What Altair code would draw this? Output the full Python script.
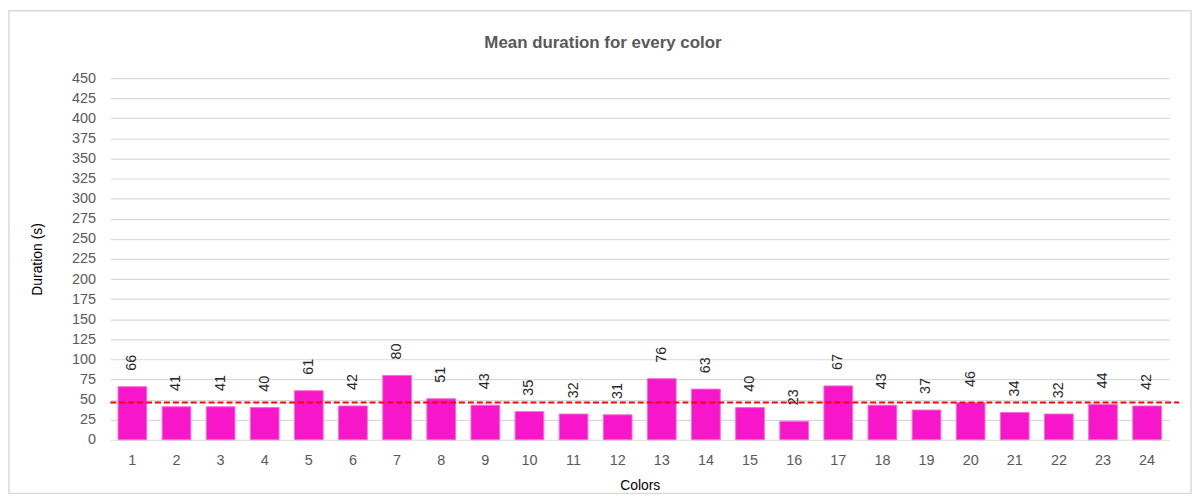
import altair as alt
import pandas as pd

colors = [str(i) for i in range(1, 25)]
durations = [66, 41, 41, 40, 61, 42, 80, 51, 43, 35, 32, 31,
             76, 63, 40, 23, 67, 43, 37, 46, 34, 32, 44, 42]
mean_value = [46.25]
y_ticks = list(range(0, 451, 25))
chart_title = ["Mean duration for every color"]

df = pd.DataFrame({"Colors": colors, "Duration": durations})
mean_df = pd.DataFrame({"mean": mean_value})
title_df = pd.DataFrame({"t": chart_title})

FONT = "Liberation Sans"
W, H = 1066, 364

x_axis = alt.Axis(labelAngle=0, ticks=False, domain=False,
                  labelPadding=14, labelFontSize=14.5,
                  labelColor="#595959", labelFont=FONT,
                  titleFont=FONT, titleFontSize=14, titleFontWeight="normal",
                  titleColor="#000000", titlePadding=12)
x_scale = alt.Scale(paddingInner=0.35, paddingOuter=0.175)

y_axis = alt.Axis(values=y_ticks, tickCount=19, ticks=False, domain=False,
                  labelOverlap=False, grid=True,
                  labelPadding=15, labelFontSize=14.5, labelColor="#595959",
                  labelFont=FONT, gridColor="#d9d9d9", gridWidth=1.2,
                  titleFont=FONT, titleFontSize=14, titleFontWeight="normal",
                  titleColor="#000000", titlePadding=27)
y_scale = alt.Scale(domain=[0, 450], nice=False)

bars = alt.Chart(df).mark_bar(color="#F716C9", stroke="#F86AD8", strokeWidth=1).encode(
    x=alt.X("Colors:N", sort=colors, title="Colors", scale=x_scale, axis=x_axis),
    y=alt.Y("Duration:Q", scale=y_scale, title="Duration (s)", axis=y_axis),
)

labels = alt.Chart(df).mark_text(angle=270, align="left", baseline="middle", dx=16,
                                 fontSize=14.5, font=FONT, color="#262626").encode(
    x=alt.X("Colors:N", sort=colors, title="Colors", scale=x_scale, axis=x_axis),
    y=alt.Y("Duration:Q", scale=y_scale, title="Duration (s)", axis=y_axis),
    text=alt.Text("Duration:Q"),
)

mean_rule = alt.Chart(mean_df).mark_rule(color="#FF0000", strokeWidth=2,
                                         strokeDash=[6, 3]).encode(
    x=alt.value(0), x2=alt.value(W + 10),
    y=alt.Y("mean:Q", scale=y_scale, title="Duration (s)", axis=y_axis),
)

frame = alt.Chart(mean_df).mark_rect(fill=None, stroke="#d9d9d9", strokeWidth=1.5).encode(
    x=alt.value(-102), x2=alt.value(W + 22),
    y=alt.value(-68), y2=alt.value(H + 54),
)

title = alt.Chart(title_df).mark_text(font=FONT, fontSize=17, fontWeight="bold",
                                      color="#595959", align="center",
                                      baseline="middle").encode(
    x=alt.value(W / 2 - 37), y=alt.value(-35), text="t:N",
)

chart = alt.layer(frame, bars, mean_rule, labels, title).properties(
    width=W, height=H,
    autosize=alt.AutoSizeParams(type="none"),
    padding={"left": 103, "top": 69, "right": 26, "bottom": 56},
).configure_view(stroke=None)

chart.save("out.html", embed_options={"renderer": "svg", "actions": False})
